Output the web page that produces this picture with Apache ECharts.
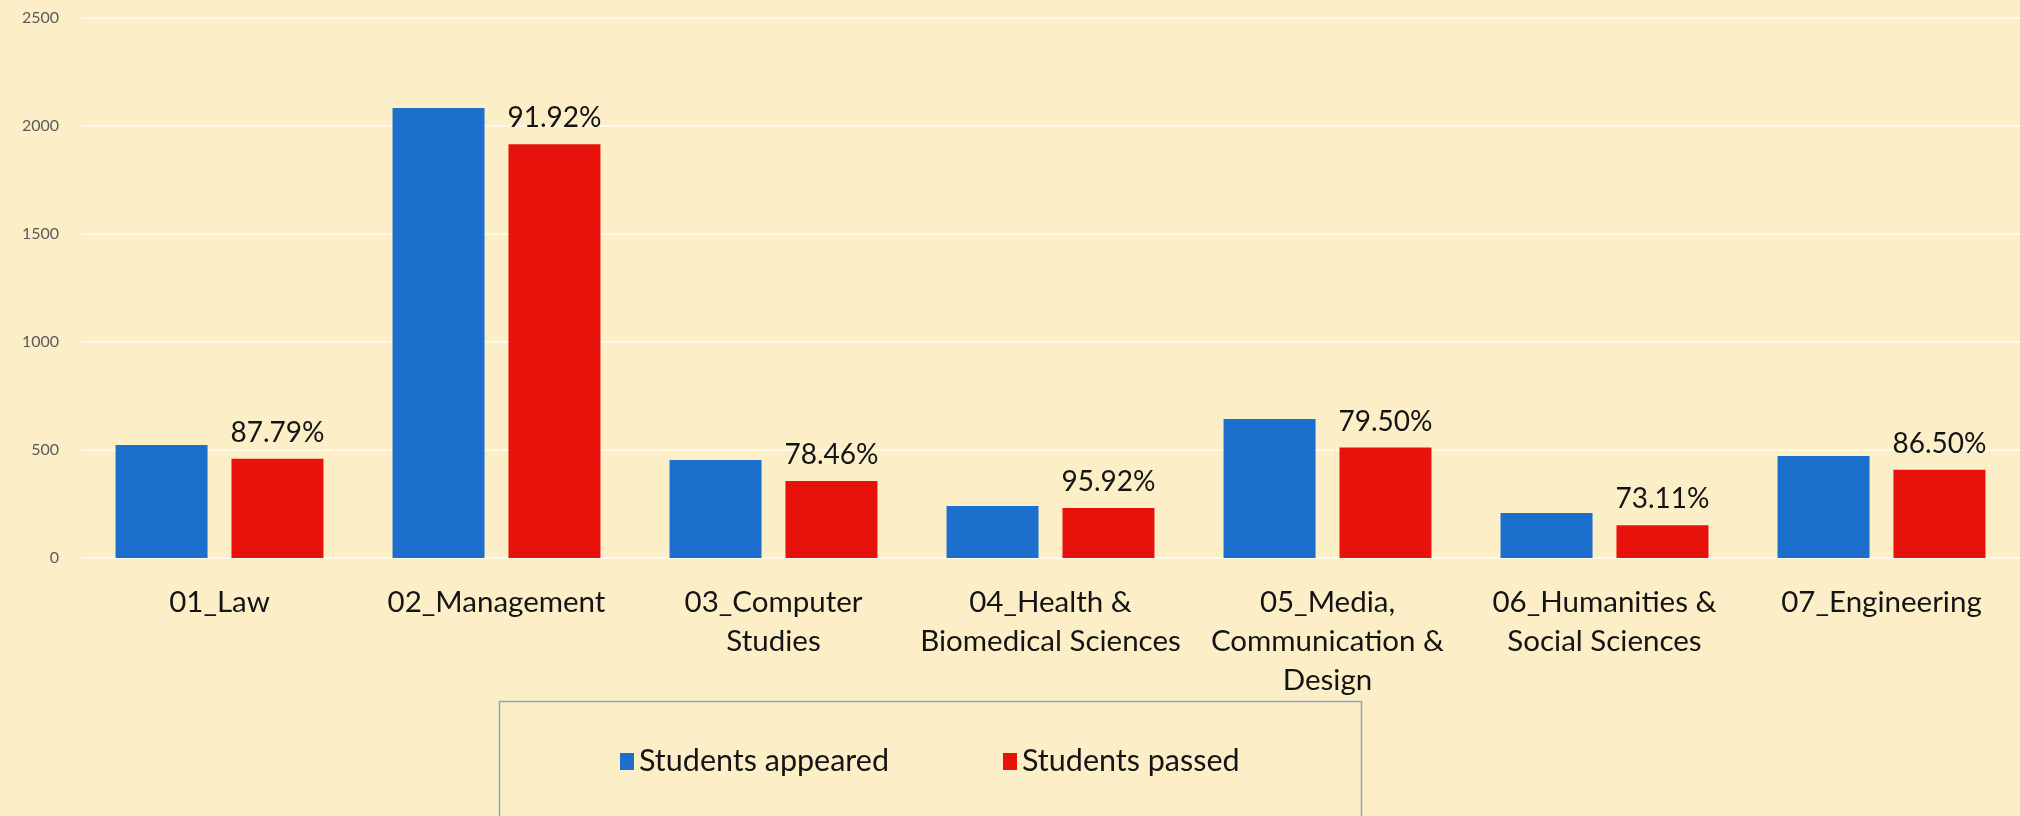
<!DOCTYPE html>
<html><head><meta charset="utf-8">
<script src="https://cdn.jsdelivr.net/npm/echarts@6/dist/echarts.min.js"></script>
<style>html,body{margin:0;padding:0;background:#FCEFC8;} #c{width:2020px;height:816px;}</style>
</head><body><div id="c"></div>
<script>
const categories = ['01_Law', '02_Management', '03_Computer\nStudies', '04_Health &\nBiomedical Sciences', '05_Media,\nCommunication &\nDesign', '06_Humanities &\nSocial Sciences', '07_Engineering'];
const appeared = [523, 2083, 454, 241, 643, 208, 472];
const passed = [459, 1915, 356, 231, 511, 152, 408];
const passRates = ['87.79%', '91.92%', '78.46%', '95.92%', '79.50%', '73.11%', '86.50%'];
const seriesNames = ['Students appeared', 'Students passed'];
const yMin = 0, yMax = 2500, yStep = 500;

const chart = echarts.init(document.getElementById('c'), null, {renderer: 'canvas'});
chart.setOption({
  backgroundColor: '#FCEFC8',
  animation: false,
  textStyle: {fontFamily: 'Lato'},
  grid: {left: 81, right: -11, top: 18, bottom: 258, containLabel: false},
  xAxis: {
    type: 'category',
    data: categories,
    axisLine: {show: false},
    axisTick: {show: false},
    axisLabel: {interval: 0, fontSize: 29.5, lineHeight: 39, margin: 25, color: '#141414', fontFamily: 'Lato'}
  },
  yAxis: {
    type: 'value',
    min: yMin, max: yMax, interval: yStep,
    axisLine: {show: false},
    axisTick: {show: false},
    axisLabel: {fontSize: 16, color: '#5a5a5a', margin: 22, fontFamily: 'Lato', formatter: v => String(v)},
    splitLine: {lineStyle: {color: 'rgba(255,255,255,0.6)', width: 2}}
  },
  legend: {
    data: seriesNames,
    left: 615, top: 741,
    icon: 'rect', itemWidth: 14, itemHeight: 17, itemGap: 114,
    textStyle: {fontSize: 30.5, color: '#141414', fontFamily: 'Lato'}
  },
  graphic: [{
    type: 'rect', left: 497, top: 699,
    shape: {width: 862, height: 200},
    style: {fill: 'none', stroke: '#8EA2C6', lineWidth: 1.5},
    silent: true
  }],
  series: [
    {
      name: seriesNames[0], type: 'bar', data: appeared,
      barWidth: 92, barGap: '26%',
      itemStyle: {color: '#1C6FCC'}
    },
    {
      name: seriesNames[1], type: 'bar', data: passed,
      barWidth: 92,
      itemStyle: {color: '#E8120C'},
      label: {
        show: true, position: 'top', distance: 12,
        formatter: p => passRates[p.dataIndex],
        fontSize: 28, lineHeight: 28, color: '#141414', fontFamily: 'Lato'
      }
    }
  ]
});
</script></body></html>
